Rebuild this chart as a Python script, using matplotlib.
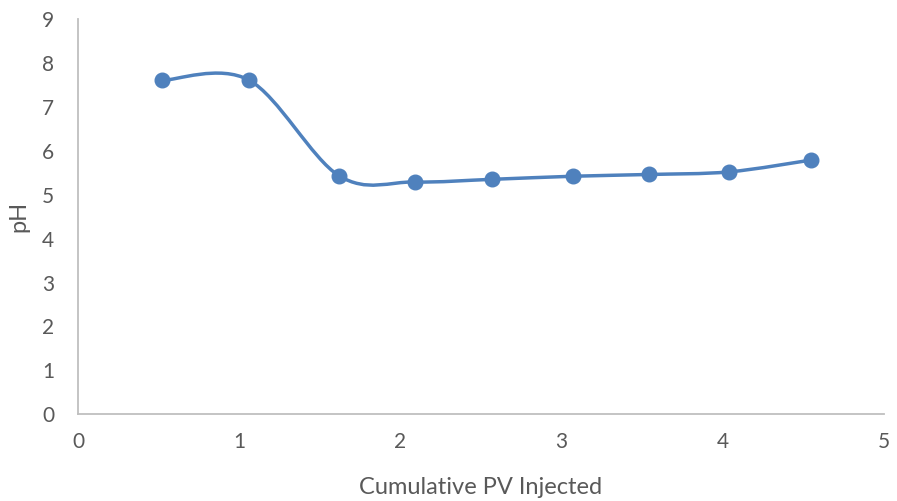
import matplotlib
matplotlib.use("Agg")
import matplotlib.pyplot as plt
from matplotlib.path import Path
from matplotlib.patches import PathPatch
import numpy as np

plt.rcParams['font.family'] = ['Lato', 'DejaVu Sans']

pv_injected = [0.52, 1.06, 1.62, 2.09, 2.57, 3.07, 3.54, 4.04, 4.55]
ph_values = [7.60, 7.61, 5.43, 5.29, 5.35, 5.42, 5.46, 5.52, 5.79]

blue = '#4F81BD'
grey_txt = '#595959'
axis_grey = '#BFBFBF'

fig = plt.figure(figsize=(8.97, 5.01), dpi=100)
ax = fig.add_axes([78 / 897, 1 - 414.3 / 501, (884 - 78) / 897, (414.3 - 19) / 501])

# smoothed line: cubic bezier segments through each point (catmull-rom style)
pts = np.column_stack([pv_injected, ph_values])
ext = np.vstack([pts[0], pts, pts[-1]])
verts = [tuple(pts[0])]
codes = [Path.MOVETO]
for i in range(len(pts) - 1):
    p0, p1, p2, p3 = ext[i], ext[i + 1], ext[i + 2], ext[i + 3]
    c1 = p1 + (p2 - p0) / 6
    c2 = p2 - (p3 - p1) / 6
    verts += [tuple(c1), tuple(c2), tuple(p2)]
    codes += [Path.CURVE4] * 3
curve = PathPatch(Path(verts, codes), facecolor='none', edgecolor=blue,
                  lw=2.5, capstyle='round', joinstyle='round', zorder=2)
ax.add_patch(curve)
ax.plot(pv_injected, ph_values, linestyle='none', marker='o', markersize=10.5,
        color=blue, zorder=3)

ax.set_xlim(0, 5)
ax.set_ylim(0, 9)
ax.set_xticks(range(0, 6))
ax.set_yticks(range(0, 10))
ax.tick_params(length=0, labelsize=15, labelcolor=grey_txt)
ax.tick_params(axis='x', pad=13)
ax.tick_params(axis='y', pad=17)
for s in ['top', 'right']:
    ax.spines[s].set_visible(False)
for s in ['left', 'bottom']:
    ax.spines[s].set_color(axis_grey)
    ax.spines[s].set_linewidth(1.3)

ax.set_xlabel('Cumulative PV Injected', fontsize=17, color=grey_txt, labelpad=18)
ax.set_ylabel('pH', fontsize=17, color=grey_txt, labelpad=9)

fig.savefig('out.png', dpi=100)
